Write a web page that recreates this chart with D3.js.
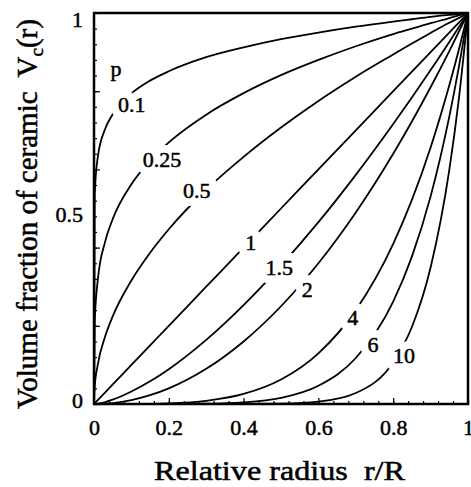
<!DOCTYPE html>
<html>
<head>
<meta charset="utf-8">
<script src="https://cdn.jsdelivr.net/npm/d3@7"></script>
<style>
  body { margin: 0; background: #fff; }
  svg { display: block; }
  text { font-family: "Liberation Serif", "Times New Roman", serif; fill: #000; }
</style>
</head>
<body>
<div id="chart"></div>
<script>
// relative radius r/R sample positions
const radius = [0, 0.002, 0.01, 0.03, 0.05, 0.1, 0.15, 0.2, 0.3, 0.4, 0.5, 0.6, 0.7, 0.8, 0.85, 0.9, 0.95, 0.975, 1];

// volume fraction, one array per exponent p
const vP01  = [0, 0.537, 0.631, 0.704, 0.741, 0.794, 0.827, 0.851, 0.887, 0.912, 0.933, 0.950, 0.965, 0.978, 0.984, 0.990, 0.995, 0.997, 1];
const vP025 = [0, 0.211, 0.316, 0.416, 0.473, 0.562, 0.622, 0.669, 0.740, 0.795, 0.841, 0.880, 0.915, 0.946, 0.960, 0.974, 0.987, 0.994, 1];
const vP05  = [0, 0.045, 0.100, 0.173, 0.224, 0.316, 0.387, 0.447, 0.548, 0.632, 0.707, 0.775, 0.837, 0.894, 0.922, 0.949, 0.975, 0.987, 1];
const vP1   = [0, 0.002, 0.010, 0.030, 0.050, 0.100, 0.150, 0.200, 0.300, 0.400, 0.500, 0.600, 0.700, 0.800, 0.850, 0.900, 0.950, 0.975, 1];
const vP15  = [0, 0.0001, 0.001, 0.005, 0.011, 0.032, 0.058, 0.089, 0.164, 0.253, 0.354, 0.465, 0.586, 0.716, 0.784, 0.854, 0.926, 0.963, 1];
const vP2   = [0, 0, 0.0001, 0.001, 0.0025, 0.010, 0.0225, 0.040, 0.090, 0.160, 0.250, 0.360, 0.490, 0.640, 0.7225, 0.810, 0.9025, 0.951, 1];
const vP4   = [0, 0, 0, 0, 0, 0.0001, 0.0005, 0.0016, 0.0081, 0.0256, 0.0625, 0.1296, 0.2401, 0.4096, 0.522, 0.656, 0.815, 0.904, 1];
const vP6   = [0, 0, 0, 0, 0, 0, 0, 0.0001, 0.0007, 0.0041, 0.0156, 0.0467, 0.1176, 0.2621, 0.377, 0.531, 0.735, 0.859, 1];
const vP10  = [0, 0, 0, 0, 0, 0, 0, 0, 0, 0.0001, 0.001, 0.006, 0.028, 0.107, 0.197, 0.349, 0.599, 0.776, 1];

const series = [vP01, vP025, vP05, vP1, vP15, vP2, vP4, vP6, vP10];

// curve labels and where they sit (in data units)
const curveLabels = ["p", "0.1", "0.25", "0.5", "1", "1.5", "2", "4", "6", "10"];
const labelX = [0.059, 0.101, 0.182, 0.275, 0.419, 0.495, 0.570, 0.692, 0.746, 0.829];
const labelY = [0.859, 0.767, 0.627, 0.547, 0.414, 0.350, 0.294, 0.222, 0.153, 0.125];

const xTickVals = [0, 0.2, 0.4, 0.6, 0.8, 1];
const xTickText = ["0", "0.2", "0.4", "0.6", "0.8", "1"];
const yTickVals = [0, 0.5, 1];
const yTickText = ["0", "0.5", "1"];

const W = 471, H = 487;
const margin = {top: 13, right: 3, bottom: 83, left: 94};
const width = W - margin.left - margin.right;
const height = H - margin.top - margin.bottom;

const svg = d3.select("#chart").append("svg")
    .attr("width", W)
    .attr("height", H);

const g = svg.append("g")
    .attr("transform", "translate(" + margin.left + "," + margin.top + ")");

const x = d3.scaleLinear().domain([0, 1]).range([0, width]);
const y = d3.scaleLinear().domain([0, 1]).range([height, 0]);

// minor ticks every 0.04, longer ones every 0.2 (inside the frame)
const minor = d3.range(0, 1.0001, 0.04);
const major = d3.range(0, 1.0001, 0.2);

g.append("g")
    .attr("transform", "translate(0," + height + ")")
    .call(d3.axisTop(x).tickValues(minor).tickSize(3).tickFormat(""))
    .call(a => a.select(".domain").remove());
g.append("g")
    .attr("transform", "translate(0," + height + ")")
    .call(d3.axisTop(x).tickValues(major).tickSize(6).tickFormat(""))
    .call(a => a.select(".domain").remove());
g.append("g")
    .call(d3.axisRight(y).tickValues(minor).tickSize(3).tickFormat(""))
    .call(a => a.select(".domain").remove());
g.append("g")
    .call(d3.axisRight(y).tickValues(major).tickSize(6).tickFormat(""))
    .call(a => a.select(".domain").remove());
g.selectAll(".tick line").attr("stroke", "#000").attr("stroke-width", 1.2);

// tick labels
const xLab = g.append("g")
    .attr("transform", "translate(0," + height + ")")
    .call(d3.axisBottom(x).tickValues(xTickVals).tickSize(0).tickPadding(15)
        .tickFormat((d, i) => xTickText[i]));
xLab.select(".domain").remove();
xLab.selectAll("text").attr("font-size", 22).attr("font-family", null)
    .attr("stroke", "#000").attr("stroke-width", 0.5).attr("dy", "0.71em");

const yLab = g.append("g")
    .call(d3.axisLeft(y).tickValues(yTickVals).tickSize(0).tickPadding(11)
        .tickFormat((d, i) => yTickText[i]));
yLab.select(".domain").remove();
yLab.selectAll("text").attr("font-size", 22).attr("font-family", null)
    .attr("stroke", "#000").attr("stroke-width", 0.5)
    .attr("dy", (d, i) => i === 0 ? "0.15em" : "0.6em");

// curves
const line = d3.line()
    .x((d, i) => x(radius[i]))
    .y(d => y(d))
    .curve(d3.curveMonotoneX);

g.selectAll(".curve")
    .data(series)
    .join("path")
    .attr("class", "curve")
    .attr("d", line)
    .attr("fill", "none")
    .attr("stroke", "#000")
    .attr("stroke-width", 1.8);

// curve labels, white halo breaks the line under them
const lab = g.selectAll(".clabel")
    .data(curveLabels)
    .join("g")
    .attr("class", "clabel")
    .attr("transform", (d, i) => "translate(" + x(labelX[i]) + "," + y(labelY[i]) + ")");
lab.append("text")
    .attr("text-anchor", "middle")
    .attr("dy", "0.35em")
    .attr("font-size", 22)
    .attr("stroke", "#fff")
    .attr("stroke-width", 16)
    .attr("stroke-linejoin", "round")
    .style("fill", "#fff")
    .text(d => d);
lab.append("text")
    .attr("text-anchor", "middle")
    .attr("dy", "0.35em")
    .attr("font-size", 22)
    .attr("stroke", "#000")
    .attr("stroke-width", 0.5)
    .text(d => d);

// frame
g.append("rect")
    .attr("width", width)
    .attr("height", height)
    .attr("fill", "none")
    .attr("stroke", "#000")
    .attr("stroke-width", 2.5);

// axis titles
svg.append("text")
    .attr("x", 154)
    .attr("y", 480)
    .attr("font-size", 28)
    .attr("stroke", "#000")
    .attr("stroke-width", 0.5)
    .attr("textLength", 251)
    .attr("lengthAdjust", "spacingAndGlyphs")
    .attr("xml:space", "preserve")
    .text("Relative radius  r/R");

const yt = svg.append("text")
    .attr("transform", "translate(37,214) rotate(-90)")
    .attr("text-anchor", "middle")
    .attr("font-size", 29)
    .attr("stroke", "#000")
    .attr("stroke-width", 0.5)
    .attr("xml:space", "preserve");
yt.append("tspan").text("Volume fraction of ceramic  V");
yt.append("tspan").attr("font-size", 19).attr("dy", 6).text("c");
yt.append("tspan").attr("dy", -6).text("(r)");
</script>
</body>
</html>
